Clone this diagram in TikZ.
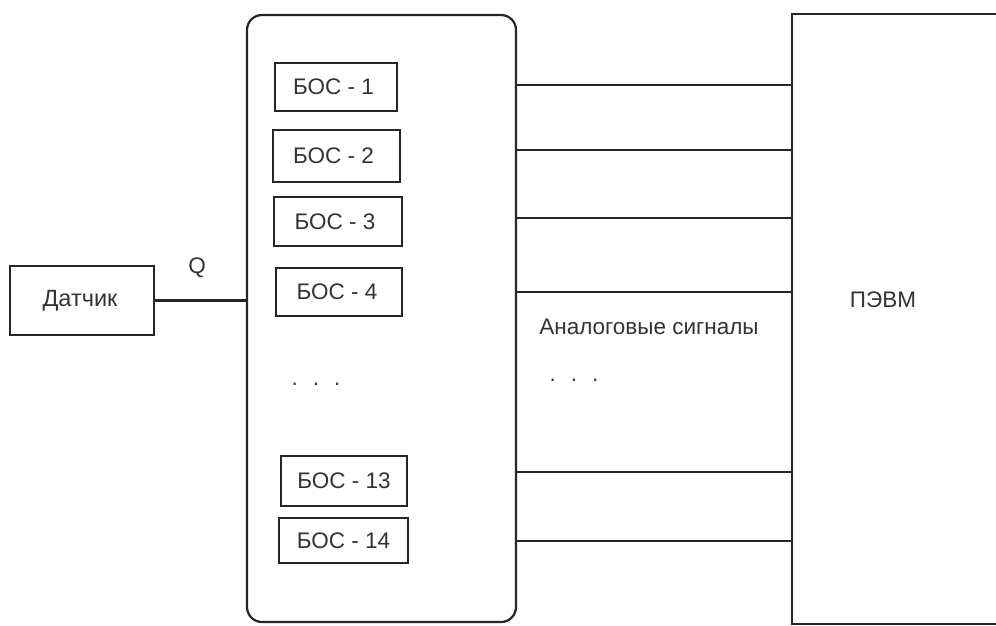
\documentclass[tikz,border=0pt]{standalone}
\usepackage{fontspec}
\setmainfont{Liberation Sans}
\begin{document}
\begin{tikzpicture}[x=1pt,y=-1pt,
  line width=2.2pt,
  box/.style={draw=black!85, rectangle, inner sep=0pt, font=\fontsize{22.5}{26}\selectfont, text=black!80},
  lbl/.style={inner sep=0pt, font=\fontsize{22.5}{26}\selectfont, text=black!80},
  wire/.style={draw=black!85}]
\useasboundingbox (0,0) rectangle (996,626);
\fill[white] (0,0) rectangle (996,626);
% sensor
\node[box, minimum width=144pt, minimum height=69pt, font=\fontsize{23.5}{26}\selectfont] (sensor) at (82,300.5) {\hspace{-4pt}Датчик};
% big rounded block
\node[box, rounded corners=15pt, minimum width=269pt, minimum height=607pt] (big) at (381.5,318.5) {};
% PC block
\node[box, minimum width=230pt, minimum height=610pt, anchor=north west] (pc) at (791,13) {};
\node[lbl] (pctext) at (883,300) {ПЭВМ};
% Q
\node[lbl] (q) at (197,268) {Q};
\draw[wire] (sensor.east) -- (big.west |- sensor.east);
% BOC blocks
\node[box, minimum width=122pt, minimum height=48pt] (b1) at (336,87) {\hspace{-5pt}БОС - 1};
\node[box, minimum width=127pt, minimum height=52pt] (b2) at (336.5,156) {\hspace{-6pt}БОС - 2};
\node[box, minimum width=128pt, minimum height=49pt] (b3) at (338,221.5) {\hspace{-6pt}БОС - 3};
\node[box, minimum width=126pt, minimum height=48pt] (b4) at (339,292) {\hspace{-4pt}БОС - 4};
\node[lbl, anchor=base] (dots1) at (316,385) {.\hspace{15pt}.\hspace{15pt}.};
\node[box, minimum width=126pt, minimum height=50pt] (b13) at (344,481) {БОС - 13};
\node[box, minimum width=129pt, minimum height=45pt] (b14) at (343.5,540.5) {БОС - 14};
% signal lines
\coordinate (l1) at (0,85);
\coordinate (l2) at (0,150);
\coordinate (l3) at (0,218);
\coordinate (l4) at (0,292);
\coordinate (l5) at (0,472);
\coordinate (l6) at (0,541);
\foreach \l in {l1,l2,l3,l4,l5,l6}
  \draw[wire] (big.east |- \l) -- (pc.west |- \l);
\node[lbl] (sig) at (649,327) {Аналоговые сигналы};
\node[lbl, anchor=base] (dots2) at (574,381) {.\hspace{15pt}.\hspace{15pt}.};
\end{tikzpicture}
\end{document}
